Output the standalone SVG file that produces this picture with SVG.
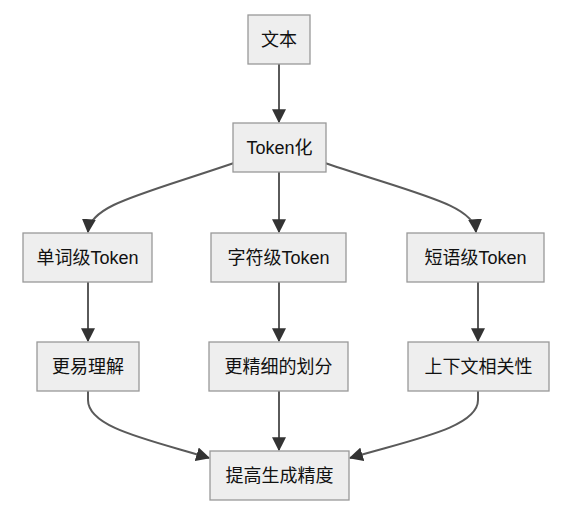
<svg xmlns="http://www.w3.org/2000/svg" width="567" height="516" viewBox="0 0 567 516">
<style>
.n rect{fill:#eeeeee;stroke:#999999;stroke-width:1.3}
.n text{font-family:"Liberation Sans","Noto Sans CJK SC",sans-serif;font-size:18px;fill:#111;text-anchor:middle;dominant-baseline:central}
.e path{fill:none;stroke:#5a5a5a;stroke-width:2}
</style>
<defs>
<marker id="ah" markerUnits="userSpaceOnUse" markerWidth="14" markerHeight="14" viewBox="0 0 12 12" refX="11" refY="6" orient="auto">
<path d="M0,0 L12,6 L0,12 z" fill="#333333"/>
</marker>
</defs>
<rect width="567" height="516" fill="#ffffff"/>
<g class="e" id="edges">
<path d="M279,64 L279,122" marker-end="url(#ah)"/>
<path d="M279,172 L279,232" marker-end="url(#ah)"/>
<path d="M234,163 C140,195 90,205 88,232" marker-end="url(#ah)"/>
<path d="M325,163 C420,195 474,205 476,232" marker-end="url(#ah)"/>
<path d="M88,282 L88,341" marker-end="url(#ah)"/>
<path d="M279,282 L279,341" marker-end="url(#ah)"/>
<path d="M478,282 L478,341" marker-end="url(#ah)"/>
<path d="M279,391 L279,450" marker-end="url(#ah)"/>
<path d="M88,391 L88,400 C88,428 150,440 209,458" marker-end="url(#ah)"/>
<path d="M478,391 L478,400 C478,428 410,440 350,458" marker-end="url(#ah)"/>
</g>
<g class="n" id="n1"><rect x="248" y="15" width="62" height="49"/><text x="279" y="40">文本</text></g>
<g class="n" id="n2"><rect x="233" y="123" width="93" height="49"/><text x="279.5" y="148">Token化</text></g>
<g class="n" id="n3"><rect x="23" y="233" width="129" height="49"/><text x="87.5" y="258">单词级Token</text></g>
<g class="n" id="n4"><rect x="211" y="233" width="135" height="49"/><text x="278.5" y="258">字符级Token</text></g>
<g class="n" id="n5"><rect x="407" y="233" width="137" height="49"/><text x="475.5" y="258">短语级Token</text></g>
<g class="n" id="n6"><rect x="37" y="342" width="102" height="49"/><text x="88" y="367">更易理解</text></g>
<g class="n" id="n7"><rect x="209" y="342" width="139" height="49"/><text x="278.5" y="367">更精细的划分</text></g>
<g class="n" id="n8"><rect x="408" y="342" width="141" height="49"/><text x="478.5" y="367">上下文相关性</text></g>
<g class="n" id="n9"><rect x="210" y="451" width="139" height="49"/><text x="279.5" y="476">提高生成精度</text></g>
</svg>
